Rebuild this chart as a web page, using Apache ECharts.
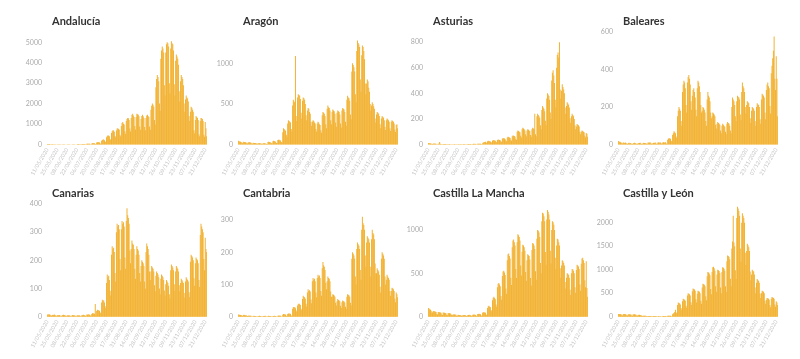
<!DOCTYPE html>
<html>
<head>
<meta charset="utf-8">
<script src="https://cdn.jsdelivr.net/npm/echarts@6/dist/echarts.min.js"></script>
<style>
html,body{margin:0;padding:0;background:#fff;}
#chart{width:800px;height:359px;}
</style>
</head>
<body>
<div id="chart"></div>
<script>
// ---- DATA ----
const startDate = '2020-05-11';
const dayCount = 227;
const regions = ['Andalucía','Aragón','Asturias','Baleares','Canarias','Cantabria','Castilla La Mancha','Castilla y León'];

const andalucia = [
30,25,22,20,18,10,8, 20,18,15,16,14,8,6, 15,14,12,15,13,7,5, 14,12,15,13,11,6,5,
12,13,11,12,10,5,4, 14,15,13,16,12,6,5, 18,20,22,19,17,9,7, 25,22,28,24,20,12,9,
35,40,38,42,36,18,14, 55,65,70,60,58,30,22, 95,110,120,105,100,50,40, 180,220,250,240,210,150,120,
350,420,450,430,400,270,220, 560,650,700,680,620,420,350, 680,780,800,760,720,480,400, 900,1050,1100,1020,980,650,530,
1150,1250,1300,1280,1200,780,640, 1300,1450,1500,1420,1350,900,740, 1350,1500,1480,1450,1380,880,720, 1250,1400,1450,1380,1300,860,700,
1300,1420,1450,1400,1350,880,720, 1700,1900,2000,1950,1850,1200,980, 2800,3200,3400,3300,3100,2000,1650, 4200,4600,4800,4700,4500,2900,2400,
4500,4900,5000,4950,4800,3000,2500, 4700,5050,4950,4900,4600,2950,2400, 4100,4400,4300,4200,3900,2600,2100, 3100,3400,3300,3200,2900,2000,1600,
2200,2400,2300,2250,2100,1400,1150, 1600,1850,1800,1700,1600,700,550, 1200,1400,1350,1300,1200,500,400, 1150,1300,1280,1250,1150,480,380,
1100,800,400];

const aragon = [
45,40,38,35,30,20,15, 35,32,30,28,25,15,12, 28,25,27,24,22,12,10, 22,20,18,20,17,10,8,
16,15,14,15,13,8,6, 15,14,16,13,12,7,5, 30,35,32,28,25,15,12, 40,45,42,38,35,20,18,
55,60,58,50,48,30,25, 150,200,190,180,170,120,100, 260,300,290,280,270,190,160, 480,550,530,520,1090,350,290,
580,620,610,600,560,390,320, 540,580,570,550,500,360,300, 420,450,440,400,380,280,230, 280,300,290,270,260,190,160,
260,280,270,250,240,175,145, 360,400,390,380,350,250,200, 440,480,460,450,420,300,250, 400,430,420,410,380,270,220,
390,420,410,400,370,260,210, 420,450,440,430,400,280,230, 550,600,580,570,540,370,310, 900,1000,980,950,900,620,520,
1150,1280,1250,1230,1200,800,650, 1100,1220,1200,1150,1050,750,620, 750,800,780,700,650,500,420, 480,520,500,470,440,320,270,
370,400,390,380,350,250,200, 320,350,340,330,300,220,180, 300,320,310,300,280,200,165, 280,300,290,280,260,185,155,
240,250,200];

const asturias = [
12,10,10,8,8,4,3, 8,6,7,5,5,2,2, 6,5,20,6,4,2,2, 4,3,3,4,3,1,1,
3,2,3,2,2,1,1, 2,2,3,2,2,1,1, 2,3,2,2,3,1,1, 2,3,3,2,2,1,1,
3,3,4,3,3,1,1, 4,5,4,5,4,2,2, 5,6,6,5,5,3,2, 10,15,18,20,22,15,12,
25,30,28,26,24,18,15, 30,35,33,32,30,22,18, 35,40,38,36,34,25,20, 45,50,48,46,42,31,25,
55,60,58,55,50,37,30, 65,70,68,66,60,43,35, 100,110,105,100,95,68,55, 120,130,125,120,110,80,65,
110,120,115,110,105,75,60, 120,130,125,120,240,80,65, 220,240,230,220,210,150,120, 270,300,290,280,260,185,150,
360,400,390,380,350,250,200, 500,560,580,540,480,350,290, 600,700,720,680,800,430,360, 420,470,450,430,400,290,240,
300,330,320,310,290,205,170, 220,240,230,220,200,150,120, 140,160,155,150,140,100,80, 100,110,105,100,95,68,55,
90,85,60];

const baleares = [
18,15,14,12,10,6,5, 10,9,8,10,8,4,3, 8,9,7,8,7,3,3, 7,8,9,7,6,3,3,
8,7,8,9,7,3,3, 8,9,8,7,8,4,3, 10,9,11,10,9,4,3, 8,9,8,10,9,4,3,
10,11,10,9,10,5,4, 10,12,11,10,12,5,4, 25,30,35,32,30,20,16, 50,60,70,65,60,42,35,
150,180,200,190,180,125,100, 280,320,340,330,300,210,170, 330,360,370,350,320,230,185, 260,290,300,280,250,185,150,
300,340,330,310,280,210,170, 180,200,195,185,170,125,100, 240,280,260,250,230,170,140, 150,170,165,160,150,105,85,
110,120,115,110,105,75,60, 100,110,105,100,95,68,55, 110,120,115,110,100,75,60, 200,250,240,230,210,150,125,
230,260,255,250,240,160,130, 280,330,310,300,280,200,165, 210,230,225,220,200,140,115, 180,200,195,190,180,125,100,
200,220,215,210,200,135,110, 240,270,265,260,250,170,135, 290,320,330,310,300,205,165, 380,420,460,500,575,350,290,
470,350,150];

const canarias = [
8,7,9,8,7,4,3, 6,7,6,8,6,3,2, 5,6,5,6,5,2,2, 6,5,7,6,5,3,2,
4,5,4,5,4,2,2, 5,6,5,4,5,2,2, 4,5,4,5,4,2,2, 6,5,7,6,5,3,2,
8,7,9,8,7,4,3, 10,12,11,12,10,45,5, 20,25,22,24,20,15,12, 50,60,55,58,50,37,30,
120,150,140,145,130,92,75, 220,250,240,245,230,155,125, 300,330,320,325,310,205,165, 310,340,330,335,320,210,170,
340,385,360,350,330,235,190, 240,270,260,255,240,170,135, 220,250,240,235,220,155,125, 180,200,195,190,180,125,100,
230,260,250,240,220,160,130, 160,180,175,170,160,112,90, 145,160,155,150,140,100,80, 135,150,145,140,130,93,75,
115,130,125,120,110,80,65, 165,185,180,175,165,115,92, 160,180,175,170,160,112,90, 120,135,130,125,120,84,68,
125,140,135,130,125,87,70, 195,220,215,210,200,136,110, 190,210,205,200,190,130,105, 290,330,320,310,300,205,165,
280,240,230];

const cantabria = [
7,6,6,5,5,3,2, 5,6,5,4,5,2,2, 3,4,3,3,3,1,1, 2,3,2,2,2,1,1,
2,2,3,2,2,1,1, 2,2,2,3,2,1,1, 2,3,2,2,2,1,1, 2,2,3,2,2,1,1,
3,3,4,3,3,1,1, 6,8,7,8,6,3,2, 8,10,9,10,8,4,3, 25,30,28,30,26,19,15,
35,40,38,40,36,25,20, 55,65,62,60,56,40,32, 75,85,80,82,78,53,42, 110,120,115,118,110,75,60,
120,130,125,128,120,80,65, 150,170,160,155,145,105,85, 110,125,120,118,110,78,62, 62,70,68,66,62,43,35,
48,55,52,50,48,34,27, 45,50,48,47,44,31,25, 62,70,68,66,62,43,35, 180,200,195,190,180,125,100,
210,230,225,220,210,145,115, 270,310,290,285,270,190,155, 230,250,245,240,230,155,125, 240,270,260,255,240,165,135,
135,150,145,140,130,93,75, 180,200,195,190,180,125,100, 115,130,125,120,115,80,65, 80,90,88,85,80,56,45,
75,70,60];

const castillaLaMancha = [
100,95,85,80,70,45,50, 65,60,62,58,55,30,25, 55,50,52,48,45,25,20, 48,45,47,44,40,22,18,
42,40,41,38,35,20,16, 26,25,24,25,22,12,10, 22,20,21,20,18,10,8, 19,18,19,17,16,9,7,
21,20,22,20,18,10,8, 23,22,24,22,20,11,9, 30,32,34,30,28,15,12, 45,50,52,48,45,25,20,
100,120,125,115,110,78,62, 190,220,230,215,200,140,115, 340,380,390,370,350,240,195, 470,520,530,510,480,325,265,
650,720,730,700,670,450,365, 800,880,890,860,820,550,445, 860,950,940,920,880,590,475, 750,830,820,800,760,515,415,
650,720,710,700,660,445,360, 770,850,840,820,780,525,425, 900,1000,990,970,920,620,500, 1100,1200,1190,1160,1100,745,600,
1120,1230,1210,1180,1120,760,615, 1000,1100,1090,1060,1000,680,550, 820,900,890,860,820,560,450, 590,650,640,620,590,400,325,
450,500,495,480,450,310,250, 500,550,545,530,500,340,275, 540,600,590,580,550,370,300, 610,670,680,650,620,420,340,
640,330,230];

const castillaYLeon = [
60,55,58,52,50,30,25, 55,52,56,50,48,28,24, 50,48,52,47,45,25,22, 50,47,50,45,42,24,20,
40,38,40,36,34,20,16, 20,22,21,20,18,10,8, 15,16,15,14,13,7,6, 15,14,16,14,13,7,6,
12,13,12,11,12,6,5, 15,16,15,14,14,7,6, 20,22,21,20,19,10,8, 50,70,80,100,150,90,75,
250,300,290,280,260,185,150, 330,380,370,360,340,235,190, 450,500,490,480,450,310,250, 540,600,590,580,550,370,300,
490,550,540,530,500,340,275, 620,700,690,680,650,435,350, 860,950,940,920,880,590,475, 950,1050,1060,1030,980,650,530,
900,1000,990,970,930,620,500, 950,1050,1040,1020,980,650,525, 1180,1300,1290,1270,1220,805,650, 1450,1600,2150,1580,1500,990,800,
2100,2340,2300,2250,2150,1450,1170, 2000,2200,2150,2100,2000,1360,1100, 1400,1550,1520,1480,1400,960,775, 900,1000,980,960,900,620,500,
720,800,780,760,720,495,400, 500,550,540,530,500,340,275, 360,400,390,380,360,250,200, 380,420,410,400,380,260,210,
330,300,250];

const seriesValues = [andalucia, aragon, asturias, baleares, canarias, cantabria, castillaLaMancha, castillaYLeon];
// y-axis tick step and axis top value for each panel
const yInterval = [1000, 500, 200, 200, 100, 100, 500, 500];
const yMax = [5602, 1410, 895, 610, 407, 356, 1323, 2440];

// ---- CATEGORIES (calendar days) ----
const dates = [];
{
  const t0 = Date.parse(startDate + 'T00:00:00Z');
  for (let i = 0; i < dayCount; i++) {
    const d = new Date(t0 + i * 86400000);
    const dd = String(d.getUTCDate()).padStart(2, '0');
    const mm = String(d.getUTCMonth() + 1).padStart(2, '0');
    dates.push(dd + '/' + mm + '/' + d.getUTCFullYear());
  }
}

// ---- LAYOUT ----
const colLeft = [47, 238, 428, 618];
const plotWidth = 160;
const rowTop = [30, 202];
const rowHeight = [114.5, 114.7];
const titleTop = [11, 183];

const grids = [], xAxes = [], yAxes = [], series = [], titles = [];
regions.forEach((name, i) => {
  const c = i % 4, r = Math.floor(i / 4);
  grids.push({left: colLeft[c], top: rowTop[r], width: plotWidth, height: rowHeight[r], containLabel: false, outerBoundsMode: 'none'});
  titles.push({
    text: name, left: colLeft[c], top: titleTop[r],
    textStyle: {fontFamily: 'Lato', fontWeight: 'bold', fontSize: 11, color: '#333'}
  });
  xAxes.push({
    type: 'category', gridIndex: i, data: dates,
    axisLine: {show: false}, axisTick: {show: false},
    axisLabel: {interval: 13, rotate: 60, fontSize: 5.5, color: '#c4c4c4', fontFamily: 'Lato', margin: 4, hideOverlap: false}
  });
  yAxes.push({
    type: 'value', gridIndex: i, min: 0, max: yMax[i], interval: yInterval[i],
    splitLine: {show: false}, axisLine: {show: false}, axisTick: {show: false},
    axisLabel: {showMaxLabel: false, fontSize: 7, color: '#aaa', fontFamily: 'Lato', margin: 5,
      formatter: v => String(v)}
  });
  series.push({
    type: 'bar', xAxisIndex: i, yAxisIndex: i, data: seriesValues[i],
    barCategoryGap: '15%', itemStyle: {color: '#f2b233'}, silent: true, animation: false
  });
});

const chart = echarts.init(document.getElementById('chart'), null, {renderer: 'canvas'});
chart.setOption({
  animation: false,
  backgroundColor: '#fff',
  title: titles,
  grid: grids,
  xAxis: xAxes,
  yAxis: yAxes,
  series: series
});
</script>
</body>
</html>
